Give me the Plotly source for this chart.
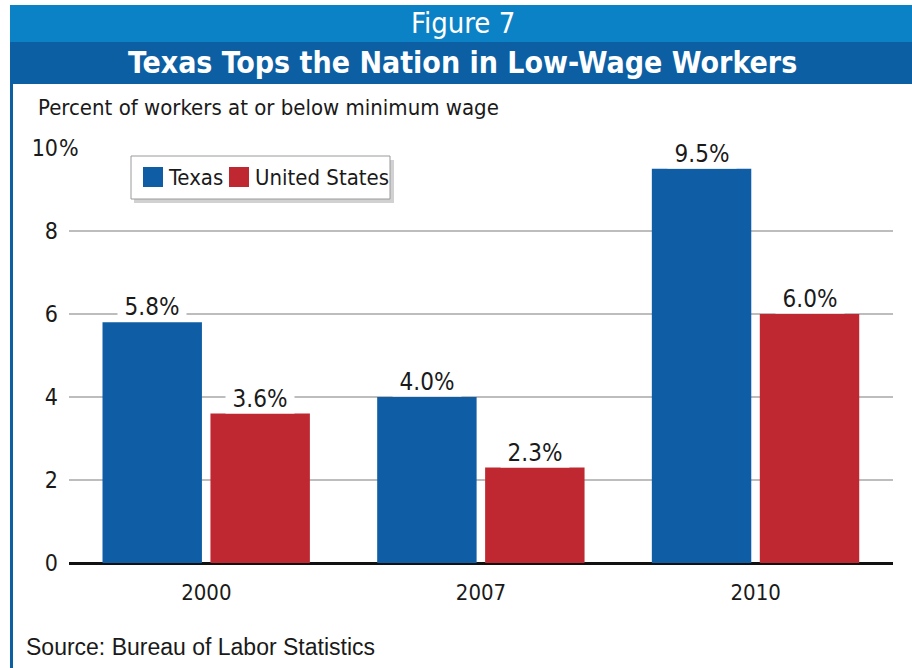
import plotly.graph_objects as go

# ---- data ----
years = ["2000", "2007", "2010"]
texas = [5.8, 4.0, 9.5]
us = [3.6, 2.3, 6.0]
series_names = ["Texas", "United States"]
texas_labels = ["5.8%", "4.0%", "9.5%"]
us_labels = ["3.6%", "2.3%", "6.0%"]
ytick_vals = [0, 2, 4, 6, 8, 10]
ytick_text = ["0", "2", "4", "6", "8", "10"]

fig_title = "Figure 7"
main_title = "Texas Tops the Nation in Low-Wage Workers"
y_title = "Percent of workers at or below minimum wage"
source = "Source: Bureau of Labor Statistics"

# ---- styling ----
W, H = 912, 668
L, R, T, B = 69, 19, 148, 105
PW, PH = W - L - R, H - T - B
COND = "DejaVu Sans Condensed, Liberation Sans Narrow, sans-serif"
SANS = "Liberation Sans, Arial, sans-serif"
TXT = "#1a1a1a"
C_TX = "#0f5ea5"
C_US = "#bf2830"
C_LIGHT = "#0b82c6"
C_DARK = "#0c5fa3"


def px(x):
    return (x - L) / PW


def py(y):
    return (H - B - y) / PH


fig = go.Figure()
fig.add_trace(go.Bar(x=years, y=texas, name=series_names[0], marker_color=C_TX,
                     marker_line_width=0, width=0.362, offset=-0.378, showlegend=False))
fig.add_trace(go.Bar(x=years, y=us, name=series_names[1], marker_color=C_US,
                     marker_line_width=0, width=0.362, offset=0.015, showlegend=False))


def txt(x, y, text, size, family=COND, color=TXT, xanchor="center", **kw):
    return dict(x=x, y=y, xref="paper", yref="paper", text=text, showarrow=False,
                xanchor=xanchor, yanchor="middle",
                font=dict(family=family, size=size, color=color), **kw)


annotations = []
for i, (v, t) in enumerate(zip(texas, texas_labels)):
    annotations.append(dict(x=i, y=v, xref="x", yref="y", text=t, showarrow=False,
                            xshift=-54, xanchor="center", yanchor="bottom",
                            bgcolor="white", width=68, borderpad=0,
                            font=dict(family=COND, size=24, color=TXT)))
for i, (v, t) in enumerate(zip(us, us_labels)):
    annotations.append(dict(x=i, y=v, xref="x", yref="y", text=t, showarrow=False,
                            xshift=54, xanchor="center", yanchor="bottom",
                            bgcolor="white", width=68, borderpad=0,
                            font=dict(family=COND, size=24, color=TXT)))

# "%" after the top tick label, masking the start of the gridline
annotations.append(dict(x=px(58), y=ytick_vals[-1], xref="paper", yref="y", text="%",
                        showarrow=False, xanchor="left", yanchor="middle", align="left",
                        width=30, bgcolor="white", borderpad=0,
                        font=dict(family=COND, size=23, color=TXT)))

annotations += [
    txt(px(463), py(23), fig_title, 29, color="white"),
    txt(px(462), py(63), "<b>" + main_title + "</b>", 30, color="white"),
    txt(px(36), py(108), y_title, 22, xanchor="left"),
    txt(px(24), py(647), source, 23, family=SANS, xanchor="left"),
    txt(px(166), py(177), series_names[0], 22, xanchor="left"),
    txt(px(253), py(177), series_names[1], 22, xanchor="left"),
]

shapes = [
    dict(type="rect", xref="paper", yref="paper", x0=px(10), x1=px(912), y0=py(5), y1=py(42),
         fillcolor=C_LIGHT, line_width=0, layer="below"),
    dict(type="rect", xref="paper", yref="paper", x0=px(10), x1=px(912), y0=py(42), y1=py(84),
         fillcolor=C_DARK, line_width=0, layer="below"),
    dict(type="rect", xref="paper", yref="paper", x0=px(10), x1=px(13), y0=py(84), y1=py(668),
         fillcolor=C_DARK, line_width=0, layer="below"),
    # legend box with shadow
    dict(type="rect", xref="paper", yref="paper", x0=px(134), x1=px(394), y0=py(160), y1=py(203),
         fillcolor="rgba(0,0,0,0.18)", line_width=0, layer="above"),
    dict(type="rect", xref="paper", yref="paper", x0=px(131), x1=px(390), y0=py(156), y1=py(199),
         fillcolor="white", line=dict(color="#9a9a9a", width=1), layer="above"),
    dict(type="rect", xref="paper", yref="paper", x0=px(143), x1=px(163), y0=py(167), y1=py(187),
         fillcolor=C_TX, line_width=0, layer="above"),
    dict(type="rect", xref="paper", yref="paper", x0=px(229), x1=px(249), y0=py(167), y1=py(187),
         fillcolor=C_US, line_width=0, layer="above"),
]

fig.update_layout(
    width=W, height=H,
    margin=dict(l=L, r=R, t=T, b=B, pad=0),
    paper_bgcolor="white", plot_bgcolor="white",
    barmode="group",
    showlegend=False,
    annotations=annotations,
    shapes=shapes,
    xaxis=dict(type="category", range=[-0.5, 2.5], showgrid=False, ticks="",
               ticklabelstandoff=14, tickfont=dict(family=COND, size=22, color=TXT),
               showline=False, zeroline=False, fixedrange=True),
    yaxis=dict(range=[0, 10], tickvals=ytick_vals, ticktext=ytick_text, showgrid=True,
               gridcolor="#bdbdbd", gridwidth=1.5, zeroline=True, zerolinecolor="#111111",
               zerolinewidth=3, ticks="", ticklabelstandoff=10, showline=False,
               tickfont=dict(family=COND, size=23, color=TXT), fixedrange=True),
)

fig.write_html("out.html", config={"displayModeBar": False})
